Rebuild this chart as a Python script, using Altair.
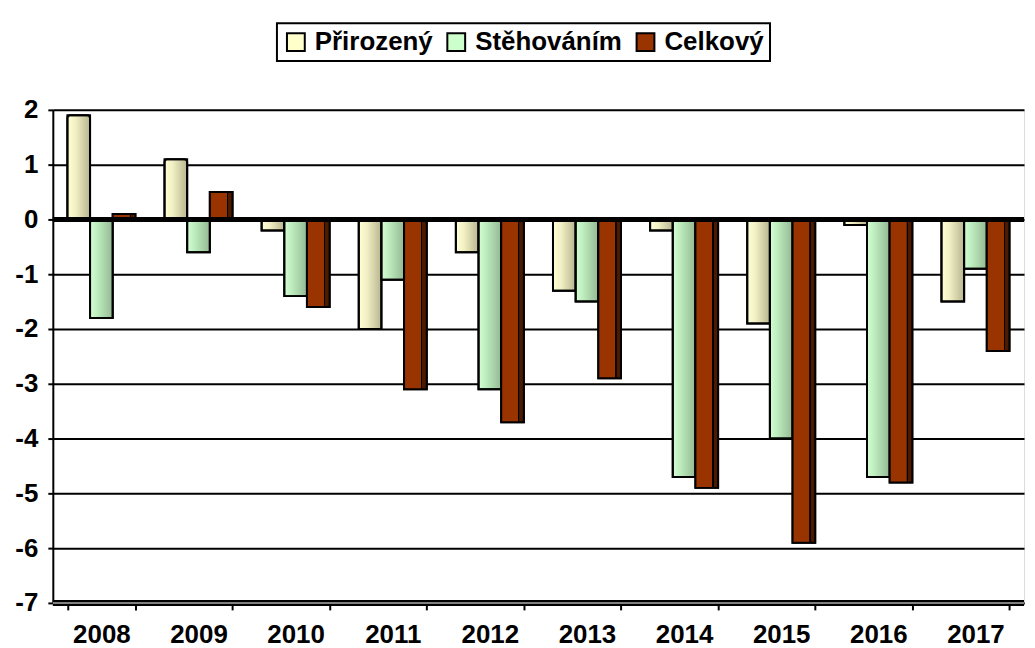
import altair as alt
import pandas as pd

years = ["2008", "2009", "2010", "2011", "2012", "2013", "2014", "2015", "2016", "2017"]
series = ["Přirozený", "Stěhováním", "Celkový"]
prirozeny = [1.9, 1.1, -0.2, -2.0, -0.6, -1.3, -0.2, -1.9, -0.1, -1.5]
stehovanim = [-1.8, -0.6, -1.4, -1.1, -3.1, -1.5, -4.7, -4.0, -4.7, -0.9]
celkovy = [0.1, 0.5, -1.6, -3.1, -3.7, -2.9, -4.9, -5.9, -4.8, -2.4]
flat_colors = ["#FFFFCC", "#CCFFCC", "#993300"]
y_ticks = [-7, -6, -5, -4, -3, -2, -1, 0, 1, 2]

rows = []
for i, yr in enumerate(years):
    rows.append({"rok": yr, "serie": series[0], "hodnota": prirozeny[i]})
    rows.append({"rok": yr, "serie": series[1], "hodnota": stehovanim[i]})
    rows.append({"rok": yr, "serie": series[2], "hodnota": celkovy[i]})
df = pd.DataFrame(rows)

FONT = "Liberation Sans"

x_enc = alt.X("rok:O", title=None,
              scale=alt.Scale(paddingInner=0.3, paddingOuter=0.15),
              axis=alt.Axis(labelAngle=0, labelFont=FONT, labelFontSize=26,
                            labelFontWeight="bold", labelColor="black",
                            tickBand="extent", tickSize=7, tickWidth=2,
                            tickColor="black", domainColor="black",
                            domainWidth=2, labelPadding=12))
y_enc = alt.Y("hodnota:Q", title=None,
              scale=alt.Scale(domain=[-7, 2], nice=False),
              axis=alt.Axis(values=y_ticks,
                            labelExpr="datum.value < 0 ? '-' + abs(datum.value) : '' + datum.value",
                            labelFont=FONT,
                            labelFontSize=26, labelFontWeight="bold",
                            labelColor="black", tickSize=5, tickWidth=2,
                            tickColor="black", domainColor="black",
                            domainWidth=2, labelPadding=10,
                            grid=True, gridColor="black", gridWidth=2))
xo_enc = alt.XOffset("serie:N", scale=alt.Scale(domain=series))

base = alt.Chart(df)

legend_layer = base.mark_bar(stroke="black", strokeWidth=2).encode(
    x=x_enc, y=y_enc, xOffset=xo_enc,
    color=alt.Color("serie:N", scale=alt.Scale(domain=series, range=flat_colors),
                    legend=alt.Legend(title=None, orient="none", legendX=225,
                                      legendY=-87, direction="horizontal",
                                      columns=3, symbolType="square",
                                      symbolSize=320, symbolStrokeColor="black",
                                      symbolStrokeWidth=2, labelFont=FONT,
                                      labelFontSize=26, labelFontWeight="bold",
                                      labelColor="black", labelOffset=6,
                                      columnPadding=10, padding=6,
                                      strokeColor="black")),
)

def grad(stops):
    return alt.Gradient(gradient="linear", x1=0, x2=1, y1=0, y2=0,
                        stops=[alt.GradientStop(color=c, offset=o) for o, c in stops])

yellow = grad([(0, "#FFFFD6"), (0.35, "#F2F0C4"), (1, "#B8B590")])
green = grad([(0, "#D4FFD4"), (0.35, "#BCEBBC"), (1, "#94B894")])
red = grad([(0, "#993300"), (0.74, "#993300"), (0.75, "#000000"),
            (0.8, "#000000"), (0.81, "#4D1A00"), (1, "#4D1A00")])

layers = [legend_layer]
for name, g in zip(series, [yellow, green, red]):
    layers.append(
        base.transform_filter(alt.datum.serie == name)
        .mark_bar(fill=g, stroke="black", strokeWidth=2,
                  cornerRadiusEnd=(3 if name != "Celkový" else 0))
        .encode(x=x_enc, y=y_enc, xOffset=xo_enc)
    )

zero_df = pd.DataFrame({"v": [0]})
floor_df = pd.DataFrame({"v": [-7]})
zero_rule = alt.Chart(zero_df).mark_rule(color="black", strokeWidth=5).encode(y="v:Q")
floor_rule = alt.Chart(floor_df).mark_rule(color="black", strokeWidth=6).encode(y="v:Q")
floor_rule2 = alt.Chart(floor_df).mark_rule(color="#808080", strokeWidth=2).encode(y="v:Q")

chart = alt.layer(*layers, zero_rule, floor_rule, floor_rule2).properties(
    width=975, height=495,
    padding={"left": 6, "top": 13, "right": 0, "bottom": 0},
).configure_view(stroke="black", strokeWidth=2).configure(background="white"
).configure_legend(strokeWidth=2)

chart.save("out.html", embed_options={"renderer": "svg", "actions": False})
